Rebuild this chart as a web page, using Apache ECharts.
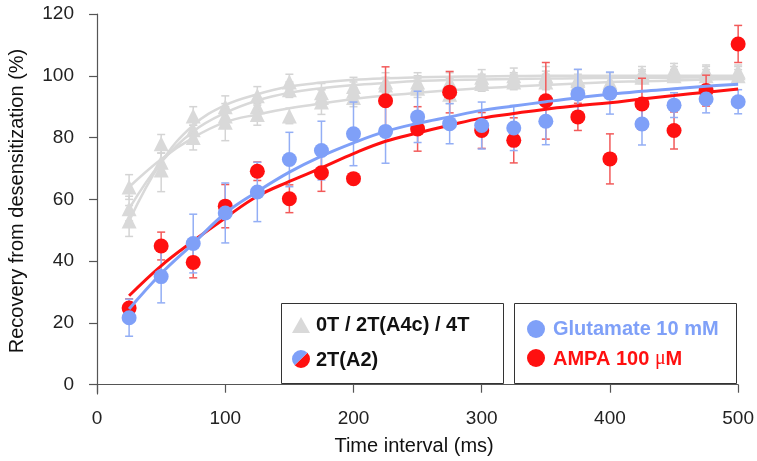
<!DOCTYPE html>
<html><head><meta charset="utf-8">
<script src="https://cdn.jsdelivr.net/npm/echarts@6/dist/echarts.min.js"></script>
<style>html,body{margin:0;padding:0;background:#fff}#c{width:757px;height:461px}</style>
</head><body><div id="c"></div>
<script>
const times = [25,50,75,100,125,150,175,200,225,250,275,300,325,350,375,400,425,450,475,500];
const xTicks = [0,100,200,300,400,500];
const yTicks = [0,20,40,60,80,100,120];

// Glutamate 10 mM (blue)
const gluMean = [21.7,35,45.7,55.6,62.4,72.9,75.8,81.2,82,86.7,84.5,83.9,83.1,85.3,94.1,94.4,84.4,90.5,92.5,91.6];
const gluErr  = [6,8.5,9.5,9.7,9.6,8.8,9.5,10.3,10.3,8.3,6.5,7.6,7.3,7.6,8,6.8,6.8,4,4.5,3.9];
const gluFit  = [24.5,36,45.7,55.5,62.5,68.8,74,78.3,82,84.6,86.7,88.8,90.2,91.6,92.9,94,95,95.8,96.6,97.3];
// AMPA 100 uM (red)
const ampaMean = [24.8,44.9,39.6,57.8,69.1,60.2,68.6,66.7,91.9,82.8,94.7,82.3,79.1,91.9,86.7,73.1,90.9,82.3,95.2,110.3];
const ampaErr  = [3,4.5,5,7,3,4.5,6,1,11,7.2,6.7,5.8,7.3,12.4,4.4,8.1,8.3,6,5,6];
const ampaFit  = [28.8,38.5,46.5,54,61,65.8,70.2,74.8,78.8,81.5,84,86.3,87.8,89.2,90.3,91.3,92.5,93.6,94.7,95.7];
// 0T / 2T(A4c) / 4T (gray)
const grayA = [64,78,87,90,93.5,98,94.5,96.5,98,98,98,99.5,100,100,99,98,101,102,101.5,101.5];
const grayAErr = [4,3,3,3.5,3,2.5,3,3,3,3,3,2.5,2.5,3,3,3,2,2,2,2];
const grayB = [57,72,82.5,87,90,95.5,93,95,97,97,96,98.5,99,99.5,98.5,97,100,101,101,101];
const grayBErr = [4,3,3,3,3,2.5,2.5,3,2.5,3,3,2,2,2,2,2.5,2,2,2,2];
const grayC = [53,69.5,80,85,87.5,87,91.5,93,94,96,94,97.5,98,98,97.5,97,99.5,100,100,100];
const grayCErr = [5,7,4,6,3.5,2.5,4,3,3,3,3,2.5,2.5,2.5,2.5,2.5,2,2,2,2];
const grayFitA = [64,73,80,85,87.5,89.5,91,92.5,93.6,94.5,95.3,96,96.5,97,97.5,98,98.2,98.5,98.8,99];
const grayFitB = [57,72,82,88,92,94.5,96,97,97.7,98.3,98.6,98.8,99,99.1,99.2,99.3,99.4,99.4,99.5,99.5];
const grayFitC = [53,72,84,90.5,94,96.5,97.8,98.7,99.2,99.5,99.7,99.8,99.9,100,100,100,100,100,100,100];

const BLUE = '#7fa0f8', RED = '#ff1010', GRAY = '#d9d9d9';
const BLUE_ERR = '#93aef5', RED_ERR = '#f25a5a', GRAY_ERR = '#d4d4d4';

function pairs(ys){ return times.map((t,i)=>[t, ys[i]]); }
function errData(m, e){ return times.map((t,i)=>[t, m[i]-e[i], m[i]+e[i]]); }
function errSeries(m, e, color, z){
  return {
    type:'custom', z:z, clip:false, silent:true,
    data: errData(m,e),
    encode:{x:0, y:[1,2]},
    renderItem: function(params, api){
      const x = api.value(0);
      const top = api.coord([x, api.value(2)]);
      const bot = api.coord([x, api.value(1)]);
      const w = 4;
      const st = {stroke:color, lineWidth:1.5};
      return {type:'group', children:[
        {type:'line', shape:{x1:top[0],y1:top[1],x2:bot[0],y2:bot[1]}, style:st},
        {type:'line', shape:{x1:top[0]-w,y1:top[1],x2:top[0]+w,y2:top[1]}, style:st},
        {type:'line', shape:{x1:bot[0]-w,y1:bot[1],x2:bot[0]+w,y2:bot[1]}, style:st}
      ]};
    }
  };
}
function fitSeries(ys, color, width, z){
  return {type:'line', data:pairs(ys), smooth:0.4, showSymbol:false, silent:true, z:z,
    lineStyle:{color:color, width:width}, clip:false};
}
function ptSeries(ys, color, symbol, size, z){
  return {type:'scatter', data:pairs(ys), symbol:symbol, symbolSize:size, z:z, silent:true, clip:false,
    itemStyle:{color:color, opacity:1}};
}

const chart = echarts.init(document.getElementById('c'), null, {renderer:'canvas'});
const FONT = 'Liberation Sans, Arial, sans-serif';
chart.setOption({
  animation:false,
  backgroundColor:'#fff',
  grid:{left:90, right:18, top:14, bottom:66, containLabel:false},
  xAxis:{
    type:'value', min:-5.5, max:500,
    name:'Time interval (ms)', nameLocation:'middle', nameGap:42,
    nameTextStyle:{fontFamily:FONT, fontSize:20, color:'#111'},
    axisLine:{show:true, lineStyle:{color:'#555', width:1.2}},
    axisTick:{show:true, length:8, customValues:xTicks, lineStyle:{color:'#555', width:1.2}},
    axisLabel:{customValues:xTicks, fontFamily:FONT, fontSize:19, color:'#222', margin:15},
    splitLine:{show:false}
  },
  yAxis:{
    type:'value', min:-3, max:120,
    axisLine:{show:true, lineStyle:{color:'#555', width:1.2}},
    axisTick:{show:true, length:8, customValues:yTicks, lineStyle:{color:'#555', width:1.2}},
    axisLabel:{customValues:yTicks, fontFamily:FONT, fontSize:19, color:'#222', margin:16},
    splitLine:{show:false}
  },
  series:[
    fitSeries(grayFitA, GRAY, 2.5, 1),
    fitSeries(grayFitB, GRAY, 2.5, 1),
    fitSeries(grayFitC, GRAY, 2.5, 1),
    errSeries(grayA, grayAErr, GRAY_ERR, 1),
    errSeries(grayB, grayBErr, GRAY_ERR, 1),
    errSeries(grayC, grayCErr, GRAY_ERR, 1),
    ptSeries(grayA, GRAY, 'triangle', 15, 2),
    ptSeries(grayB, GRAY, 'triangle', 15, 2),
    ptSeries(grayC, GRAY, 'triangle', 15, 2),
    errSeries(ampaMean, ampaErr, RED_ERR, 3),
    errSeries(gluMean, gluErr, BLUE_ERR, 3),
    ptSeries(ampaMean, RED, 'circle', 15, 4),
    fitSeries(ampaFit, RED, 3, 5),
    fitSeries(gluFit, BLUE, 3, 5),
    ptSeries(gluMean, BLUE, 'circle', 15, 6)
  ],
  graphic:[
    {type:'text', x:17, y:201, rotation:Math.PI/2, z:10,
      style:{text:'Recovery from desensitization (%)', fontFamily:FONT, fontSize:20, fill:'#111', align:'center', verticalAlign:'middle'}},
    {type:'rect', shape:{x:281.5, y:303.5, width:222, height:80}, style:{fill:'#fff', stroke:'#333', lineWidth:1}, z:20},
    {type:'rect', shape:{x:514.5, y:303.5, width:222, height:80}, style:{fill:'#fff', stroke:'#333', lineWidth:1}, z:20},
    {type:'polygon', shape:{points:[[301,317],[310,333],[292,333]]}, style:{fill:GRAY}, z:21},
    {type:'sector', shape:{cx:301, cy:359, r:9, startAngle:-Math.PI/4, endAngle:3*Math.PI/4}, style:{fill:RED}, z:21},
    {type:'sector', shape:{cx:301, cy:359, r:9, startAngle:3*Math.PI/4, endAngle:7*Math.PI/4}, style:{fill:BLUE}, z:21},
    {type:'text', x:316, y:325, z:21, style:{text:'0T / 2T(A4c) / 4T', fontFamily:FONT, fontWeight:'bold', fontSize:20, fill:'#111', verticalAlign:'middle'}},
    {type:'text', x:316, y:360, z:21, style:{text:'2T(A2)', fontFamily:FONT, fontWeight:'bold', fontSize:20, fill:'#111', verticalAlign:'middle'}},
    {type:'circle', shape:{cx:536, cy:329, r:9}, style:{fill:BLUE}, z:21},
    {type:'circle', shape:{cx:536, cy:358, r:9}, style:{fill:RED}, z:21},
    {type:'text', x:553, y:329, z:21, style:{text:'Glutamate 10 mM', fontFamily:FONT, fontWeight:'bold', fontSize:20, fill:BLUE, verticalAlign:'middle'}},
    {type:'text', x:553, y:359, z:21, style:{text:'AMPA 100 {mu|μ}M', fontFamily:FONT, fontWeight:'bold', fontSize:20, fill:RED, verticalAlign:'middle',
      rich:{mu:{fontFamily:'Liberation Serif, serif', fontWeight:'normal', fontSize:20, fill:RED}}}}
  ]
});
</script></body></html>
